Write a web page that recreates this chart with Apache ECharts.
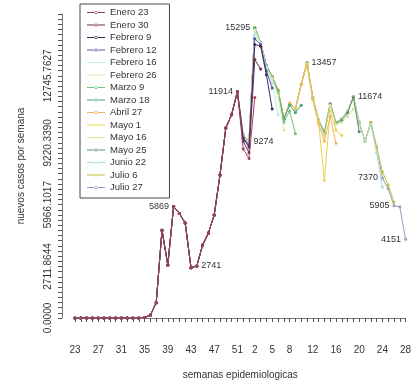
<!DOCTYPE html>
<html>
<head>
<meta charset="utf-8">
<script src="https://cdn.jsdelivr.net/npm/echarts@6/dist/echarts.min.js"></script>
<style>
  html, body { margin: 0; padding: 0; background: #fff; }
  #chart { width: 414px; height: 383px; }
</style>
</head>
<body>
<div id="chart"></div>
<script>
// semanas epidemiologicas: 2020 (23-52) y 2021 (1-28)
const weeks = ['23','24','25','26','27','28','29','30','31','32','33','34','35','36','37','38',
  '39','40','41','42','43','44','45','46','47','48','49','50','51','52',
  '1','2','3','4','5','6','7','8','9','10','11','12','13','14','15','16','17','18','19','20',
  '21','22','23','24','25','26','27','28']

// etiquetas visibles del eje x (posicion en weeks)
const xLabelIdx = [0, 4, 8, 12, 16, 20, 24, 28, 31, 34, 37, 41, 45, 49, 53, 57]

// marcas del eje y: seq(0, 16000, length = 60), solo algunas con texto
const yStep = 16000 / 59
const yLabelIdx = [0, 10, 22, 34, 47]

// semanas 23 a 50 de 2020, iguales en todos los reportes
const history = [0, 0, 0, 0, 0, 0, 0, 0, 0, 0, 0, 0, 30, 160, 800, 4620, 2790, 5869,
  5500, 5000, 2650, 2741, 3840, 4470, 5420, 7530, 10000, 10700]

// cada reporte desde la semana 51
const tailEnero23 = [11914, 8900, 8400, 11600]
const tailEnero30 = [11914, 9300, 8700, 13600, 13100]
const tailFebrero9 = [11914, 9450, 9000, 14400, 14300, 12800, 11000]
const tailFebrero12 = [11914, 9500, 9100, 14700, 14400, 13000, 12100]
const tailFebrero16 = [11914, 9550, 9200, 14950, 14450, 13100, 12400, 10700]
const tailFebrero26 = [11914, 9580, 9230, 15150, 14480, 13200, 12600, 11700, 9900]
const tailMarzo9 = [11914, 9600, 9260, 15230, 14500, 13250, 12650, 11900, 10300, 10900, 9700]
const tailMarzo18 = [11914, 9600, 9270, 15260, 14500, 13280, 12680, 11950, 10450, 11200, 10800, 11200]
const tailAbril27 = [11914, 9600, 9274, 15290, 14500, 13300, 12700, 12000, 10500, 11300, 11000, 12300,
  13300, 11500, 10200, 9300, 10600, 9200]
const tailMayo1 = [11914, 9600, 9274, 15290, 14500, 13300, 12700, 12000, 10500, 11300, 11000, 12300,
  13350, 11500, 10300, 7250, 10900, 9900, 9600]
const tailMayo16 = [11914, 9600, 9274, 15295, 14500, 13300, 12700, 12000, 10500, 11300, 11000, 12300,
  13400, 11550, 10350, 9600, 11200, 10200, 10300, 10600, 11000]
const tailMayo25 = [11914, 9600, 9274, 15295, 14500, 13300, 12700, 12000, 10500, 11300, 11000, 12300,
  13420, 11580, 10380, 9700, 11250, 10250, 10400, 10800, 11600, 9800]
const tailJunio22 = [11914, 9600, 9274, 15295, 14500, 13300, 12700, 12000, 10500, 11300, 11000, 12300,
  13450, 11600, 10400, 9800, 11300, 10300, 10500, 10900, 11670, 10200, 9300, 10200, 8700, 6900]
const tailJulio6 = [11914, 9600, 9274, 15295, 14500, 13300, 12700, 12000, 10500, 11300, 11000, 12300,
  13457, 11600, 10400, 9800, 11300, 10300, 10500, 10900, 11674, 10300, 9300, 10300, 9000, 7700, 7000, 6100]
const tailJulio27 = [11914, 9600, 9274, 15295, 14500, 13300, 12700, 12000, 10500, 11300, 11000, 12300,
  13457, 11600, 10400, 9800, 11300, 10300, 10500, 10900, 11674, 10300, 9300, 10300, 9000, 7370, 6800,
  5905, 5850, 4151]

const reportNames = ['Enero 23', 'Enero 30', 'Febrero 9', 'Febrero 12', 'Febrero 16', 'Febrero 26',
  'Marzo 9', 'Marzo 18', 'Abril 27', 'Mayo 1', 'Mayo 16', 'Mayo 25', 'Junio 22', 'Julio 6', 'Julio 27']
const reportTails = [tailEnero23, tailEnero30, tailFebrero9, tailFebrero12, tailFebrero16, tailFebrero26,
  tailMarzo9, tailMarzo18, tailAbril27, tailMayo1, tailMayo16, tailMayo25, tailJunio22, tailJulio6, tailJulio27]

// valores rotulados en el ultimo reporte
const annotated = [15295, 11914, 9274, 5869, 2741, 13457, 11674, 7370, 5905, 4151]

const colors = ['#a3405f', '#6b3152', '#3f2b5b', '#5a55a8', '#bfe6ec', '#dcebb4', '#6cc07a', '#3ea58a',
  '#f2b85a', '#e9d34a', '#d5e59a', '#5e8c63', '#a9dccb', '#c9be3a', '#9a9cc4']
const labelSide = ['left', 'left', 'right', 'left', 'right', 'right', 'right', 'left', 'left', 'left']

const font = 'Liberation Sans'
// icono de leyenda: linea fina con un punto (como lty = 1, pch = 20)
const legendIcon = 'path://M0,1H18V2H0Z M7.5,1.5a1.5,1.5 0 1,0 3,0a1.5,1.5 0 1,0 -3,0Z'

const chart = echarts.init(document.getElementById('chart'))

const series = reportNames.map((name, k) => {
  const values = history.concat(reportTails[k])
  const last = k === reportNames.length - 1
  return {
    name,
    type: 'line',
    // el primer reporte queda encima
    z: 2 + (reportNames.length - k) * 0.01,
    data: values.map(v => {
      const a = last ? annotated.indexOf(v) : -1
      if (a < 0) return v
      return {
        value: v,
        label: {
          show: true, position: labelSide[a], distance: 3,
          color: '#333', fontSize: 9, fontFamily: font,
          formatter: '{c}'
        }
      }
    }),
    symbol: 'circle',
    symbolSize: 3,
    showAllSymbol: true,
    animation: false,
    lineStyle: { width: 1, color: colors[k] },
    itemStyle: { color: colors[k] },
    emphasis: { disabled: true }
  }
}).reverse()

chart.setOption({
  animation: false,
  color: colors,
  grid: { left: 75, right: 8.4, top: 14, bottom: 65, outerBoundsMode: 'none' },
  legend: {
    data: reportNames.map(name => ({ name, icon: legendIcon })),
    orient: 'vertical',
    left: 80, top: 4,
    padding: [3, 13, 5, 7],
    itemWidth: 18, itemHeight: 3, itemGap: 1.5,
    borderColor: '#444', borderWidth: 1, borderRadius: 0,
    textStyle: { fontSize: 9.5, lineHeight: 11, fontFamily: font, color: '#333' }
  },
  xAxis: {
    type: 'category',
    data: weeks,
    boundaryGap: false,
    offset: 14,
    name: 'semanas epidemiologicas',
    nameLocation: 'middle',
    nameGap: 38,
    nameTextStyle: { fontSize: 10, fontFamily: font, color: '#333' },
    axisLine: { lineStyle: { color: '#555', width: 0.8 } },
    axisTick: { interval: 0, length: 4, lineStyle: { color: '#555' } },
    axisLabel: {
      interval: i => xLabelIdx.includes(i),
      margin: 13, fontSize: 10, fontFamily: font, color: '#333'
    },
    splitLine: { show: false }
  },
  yAxis: {
    type: 'value',
    min: 0, max: 16000, interval: yStep,
    offset: 13,
    name: 'nuevos casos por semana',
    nameLocation: 'middle',
    nameRotate: 90,
    nameGap: 36,
    nameTextStyle: { fontSize: 10, fontFamily: font, color: '#333' },
    axisLine: { show: true, lineStyle: { color: '#555', width: 0.8 } },
    axisTick: { show: true, length: 4, lineStyle: { color: '#555' } },
    axisLabel: {
      rotate: 90, margin: 9, fontSize: 10, fontFamily: font, color: '#333',
      formatter: v => yLabelIdx.includes(Math.round(v / yStep)) ? v.toFixed(4) : ''
    },
    splitLine: { show: false }
  },
  series
})
</script>
</body>
</html>
